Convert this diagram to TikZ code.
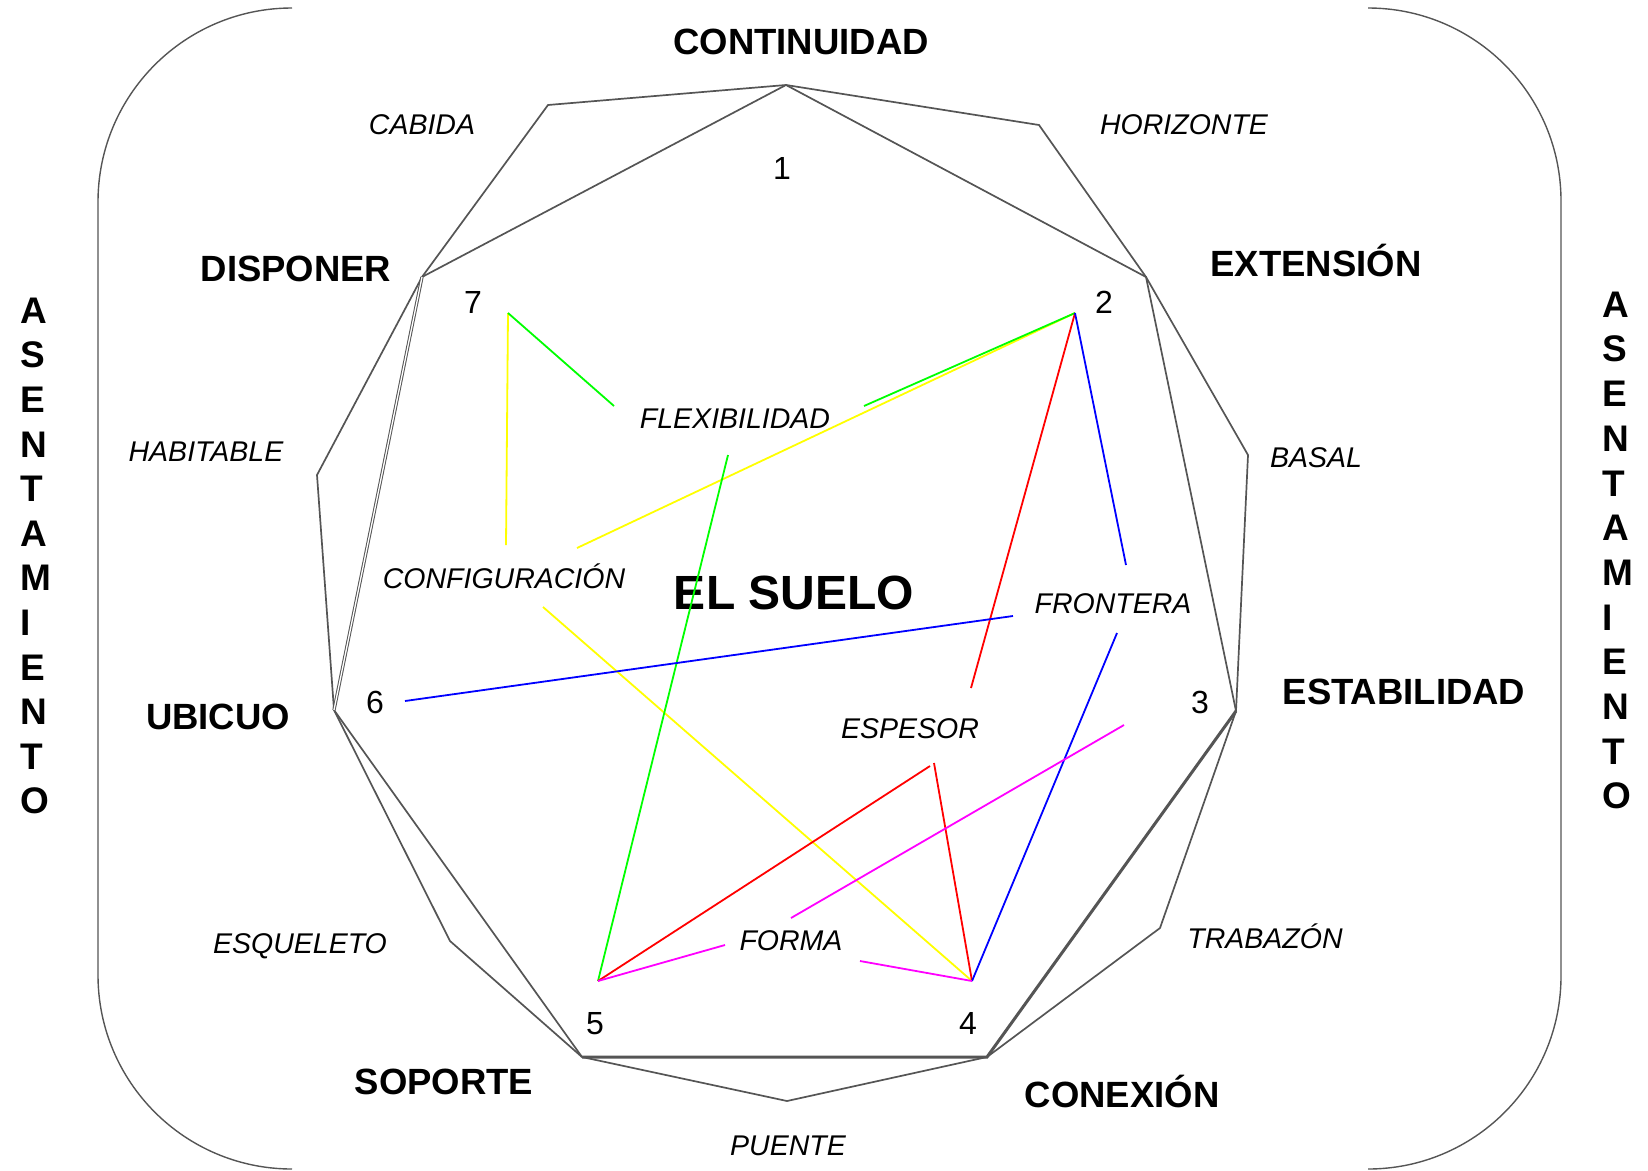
\documentclass[tikz,border=0pt]{standalone}
\usepackage{fontspec}
\setmainfont{Liberation Sans}
\definecolor{linegray}{HTML}{555555}
\definecolor{lgreen}{RGB}{0,255,0}
\definecolor{lyellow}{RGB}{255,255,0}
\definecolor{lred}{RGB}{255,0,0}
\definecolor{lblue}{RGB}{0,0,255}
\definecolor{lmagenta}{RGB}{255,0,255}
\begin{document}
\begin{tikzpicture}[x=1pt,y=-1pt,
        edge/.style={draw=linegray, line width=1.7pt},
        link/.style={line width=1.8pt},
        key/.style={font=\bfseries\fontsize{36.5}{40}\selectfont, inner sep=0pt, text height=26pt, text depth=0pt},
        sub/.style={font=\itshape\fontsize{28.5}{32}\selectfont, inner sep=0pt, text height=20.5pt, text depth=0pt},
        num/.style={font=\fontsize{32}{36}\selectfont, inner sep=0pt, text height=23pt, text depth=0pt},
        vert/.style={font=\bfseries\fontsize{37}{40}\selectfont, inner sep=0pt, text height=26.5pt, text depth=0pt, anchor=west}]
        \useasboundingbox (0,0) rectangle (1648,1170);

        % brackets
        \draw[linegray, line width=1.4pt, rounded corners=194pt] (292,8) -- (98,8) -- (98,1169) -- (292,1169);
        \draw[linegray, line width=1.4pt, rounded corners=193pt] (1368,8) -- (1561,8) -- (1561,1169) -- (1368,1169);

        % vertices
        \coordinate (v1) at (786,85);
        \coordinate (v2) at (1146,277);
        \coordinate (v3) at (1236,711);
        \coordinate (v4) at (987,1057);
        \coordinate (v5) at (582,1057);
        \coordinate (v6) at (334,710);
        \coordinate (v7) at (422,277);
        \coordinate (cab) at (548,105);
        \coordinate (hor) at (1039,125);
        \coordinate (bas) at (1248,455);
        \coordinate (tra) at (1160,928);
        \coordinate (pue) at (787,1101);
        \coordinate (esq) at (450,941);
        \coordinate (hab) at (317,475);

        \draw[edge] (v1) -- (hor) -- (v2) -- (bas) -- (v3) -- (tra) -- (v4) -- (pue) -- (v5) -- (esq) -- (v6) -- (hab) -- (v7) -- (cab) -- cycle;
        \draw[edge] (v7) -- (v1) -- (v2) -- (v3);
        \draw[edge, line width=3pt] (v3) -- (v4) -- (v5);
        \draw[edge] (v5) -- (v6);
        \draw[linegray, double, double distance=1.3pt, line width=1pt] (v6) -- (v7);

        % outer labels
        \node[key] (cont) at (801,41) {CONTINUIDAD};
        \node[key] (ext) at (1316,263) {EXTENSIÓN};
        \node[key] (estab) at (1404,691) {ESTABILIDAD};
        \node[key] (conex) at (1122,1094) {CONEXIÓN};
        \node[key] (sop) at (444,1081) {SOPORTE};
        \node[key] (ubic) at (218,716) {UBICUO};
        \node[key] (disp) at (296,268) {DISPONER};

        \node[sub] (cabida) at (422,124) {CABIDA};
        \node[sub] (horiz) at (1184,124) {HORIZONTE};
        \node[sub] (basal) at (1316,457) {BASAL};
        \node[sub] (trabazon) at (1265,938) {TRABAZÓN};
        \node[sub] (puente) at (788,1145) {PUENTE};
        \node[sub] (esqueleto) at (300,943) {ESQUELETO};
        \node[sub] (habitable) at (206,451) {HABITABLE};

        % numbers
        \node[num] (n1) at (782,168) {1};
        \node[num] (n2) at (1104,302) {2};
        \node[num] (n3) at (1200,702) {3};
        \node[num] (n4) at (968,1023) {4};
        \node[num] (n5) at (595,1023) {5};
        \node[num] (n6) at (375,702) {6};
        \node[num] (n7) at (473,302) {7};

        % inner labels
        \node[font=\bfseries\fontsize{48}{52}\selectfont, inner sep=0pt, text height=34.5pt, text depth=0pt] (suelo) at (794,592) {EL SUELO};
        \node[sub] (flex) at (735,418) {FLEXIBILIDAD};
        \node[sub] (conf) at (504,578) {CONFIGURACIÓN};
        \node[sub] (espesor) at (910,728) {ESPESOR};
        \node[sub] (frontera) at (1113,603) {FRONTERA};
        \node[sub] (forma) at (791,940) {FORMA};

        % line ends
        \coordinate (a2) at (1075,313);
        \coordinate (a3) at (1124,725);
        \coordinate (a4) at (972,981);
        \coordinate (a5) at (598,981);
        \coordinate (a6) at (405,701);
        \coordinate (a7) at (508,313);

        \coordinate (flexL) at (614,406);
        \coordinate (flexR) at (864,406);
        \coordinate (flexB) at (728,455);
        \coordinate (confT) at (506,545);
        \coordinate (confR) at (577,548);
        \coordinate (confB) at (543,607);
        \coordinate (espT) at (971,688);
        \coordinate (espB) at (934,763);
        \coordinate (espL) at (930,766);
        \coordinate (froT) at (1126,565);
        \coordinate (froB) at (1117,633);
        \coordinate (froL) at (1013,616);
        \coordinate (formL) at (725,945);
        \coordinate (formR) at (860,961);
        \coordinate (formT) at (791,918);

        \draw[link, lyellow] (a7) -- (confT);
        \draw[link, lyellow] (a2) -- (confR);
        \draw[link, lyellow] (confB) -- (a4);
        \draw[link, lgreen] (a7) -- (flexL);
        \draw[link, lgreen] (a2) -- (flexR);
        \draw[link, lgreen] (flexB) -- (a5);
        \draw[link, lred] (a2) -- (espT);
        \draw[link, lred] (espB) -- (a4);
        \draw[link, lred] (a5) -- (espL);
        \draw[link, lblue] (a2) -- (froT);
        \draw[link, lblue] (froB) -- (a4);
        \draw[link, lblue] (a6) -- (froL);
        \draw[link, lmagenta] (a5) -- (formL);
        \draw[link, lmagenta] (formR) -- (a4);
        \draw[link, lmagenta] (formT) -- (a3);

        % side words
        \foreach \l [count=\i from 0] in {A,S,E,N,T,A,M,I,E,N,T,O} {
            \node[vert] (asl\i) at (20,310+44.6*\i) {\l};
            \node[vert] (asr\i) at (1602,304+44.7*\i) {\l};
        }
    \end{tikzpicture}
\end{document}
